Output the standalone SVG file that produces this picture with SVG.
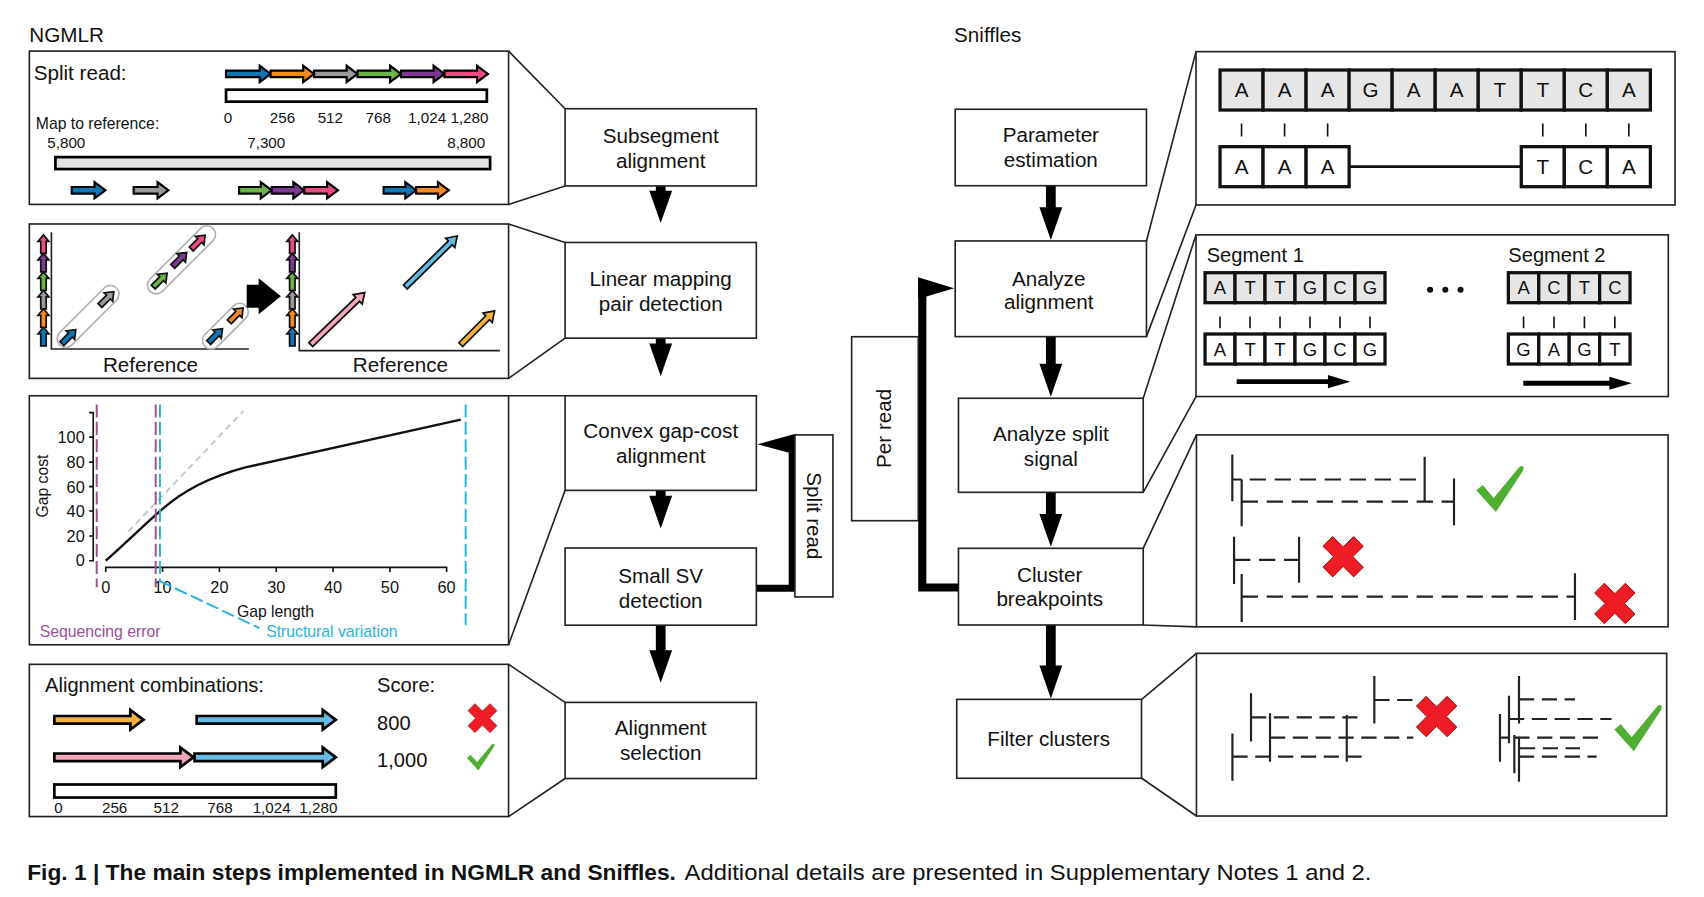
<svg xmlns="http://www.w3.org/2000/svg" xmlns:xlink="http://www.w3.org/1999/xlink" width="1704" height="897" viewBox="0 0 1704 897">
<style>
text{font-family:"Liberation Sans",Arial,Helvetica,sans-serif;fill:#111}
.t19{font-size:19px}
.t18{font-size:18.5px}
.t17{font-size:17px}
.t15{font-size:15px}
.t14{font-size:14px}
.mid{text-anchor:middle}
.end{text-anchor:end}
.box{fill:#fff;stroke:#222;stroke-width:1.5}
.pan{fill:#fff;stroke:#222;stroke-width:1.5}
.con{fill:none;stroke:#222;stroke-width:1.5}
.arw{stroke:#000;stroke-width:2;stroke-linejoin:miter}
.sarw{stroke:#111;stroke-width:1.6}
.cell{fill:#e6e6e6;stroke:#111;stroke-width:3}
.wcell{fill:#fff;stroke:#111;stroke-width:3}
.bar{stroke:#111;stroke-width:1.5}
.bl{fill:none;stroke:#222;stroke-width:2}
.dl{fill:none;stroke:#222;stroke-width:2;stroke-dasharray:15 8}
.flow{fill:#000}
.xm{fill:#ee1c25;stroke:#a00;stroke-width:0.8;stroke-linejoin:round}
.ck{fill:#4fae33}
</style>
<defs>
<path id="xmark" d="M-6,-19H6V-6H19V6H6V19H-6V6H-19V-6H-6Z" transform="rotate(45)"/>
<path id="check" d="M-22,1L-16,-4L-6,8L18,-21Q23,-23 21,-17L-4,21Z"/>
<path id="sa" d="M0,-2.5H11V-5.5L18,0L11,5.5V2.5H0Z"/>
<g id="stack" class="sarw">
<path fill="#1077b5" d="M37.5,318V307H35L40,301L45,307H42.5V318Z"/>
<path fill="#f58a24" d="M37.5,301V290H35L40,284L45,290H42.5V301Z"/>
<path fill="#9a9a9a" d="M37.5,284V273H35L40,267L45,273H42.5V284Z"/>
<path fill="#6db446" d="M37.5,267V256H35L40,250L45,256H42.5V267Z"/>
<path fill="#7e3a93" d="M37.5,250V239H35L40,233L45,239H42.5V250Z"/>
<path fill="#ec4c7e" d="M37.5,233V222H35L40,216L45,222H42.5V233Z"/>
</g>
</defs>
<rect width="1704" height="897" fill="#fff"/>
<g transform="scale(1.0867 1.0873)">

<g id="connectors">
<path class="con" d="M468,47L520,100M468,188L520,171M468,206L520,223M468,348L520,311M468,364L520,364M468,593L520,451M468,611L520,646M468,751L520,716"/>
<path class="con" d="M1055,221.6L1100.6,47.5M1055,309.6L1100.6,188.5M1052,366.3L1100.6,216M1052,452.8L1100.6,364.7M1052,504.3L1101,400M1052,574.8L1101,576.5M1050.6,643.2L1101,600.9M1050.6,715.8L1101,750.5"/>
<g class="flow">
<path d="M603.5,171V175.5H597.5L608,205L618.5,175.5H612.5V171Z"/>
<path d="M603.5,311V316H597.5L608,346L618.5,316H612.5V311Z"/>
<path d="M603.5,451V456H597.5L608,486L618.5,456H612.5V451Z"/>
<path d="M603.5,575V598H597.5L608,628L618.5,598H612.5V575Z"/>
<path d="M962.5,170.8V190.5H956.5L967,220.7L977.5,190.5H971.5V170.8Z"/>
<path d="M962.5,309.7V334.5H956.5L967,364.8L977.5,334.5H971.5V309.7Z"/>
<path d="M962.5,452.8V472.8H956.5L967,502.8L977.5,472.8H971.5V452.8Z"/>
<path d="M962.5,574.8V612H956.5L967,642.5L977.5,612H971.5V574.8Z"/>
</g>
<polyline points="696,541 729,541 729,405" fill="none" stroke="#000" stroke-width="6.5"/>
<path class="flow" d="M732,399L732,418L697,408.5Z"/>
<polyline points="848.7,262 848.7,540.3 881.9,540.3" fill="none" stroke="#000" stroke-width="7.5"/>
<path class="flow" d="M844.8,255L878,265L844.8,275Z"/>
</g>

<g id="title-ngmlr"><text class="t19" x="27" y="38.8">NGMLR</text></g>
<g id="title-sniffles"><text class="t19" x="878" y="38.8">Sniffles</text></g>

<g id="panel-split-read">
<rect class="pan" x="27" y="47" width="441" height="141"/>
<text class="t19" x="31" y="74">Split read:</text>
<g class="arw">
<path fill="#1077b5" d="M208,65H239V60.5L249,68L239,75.5V71H208Z"/>
<path fill="#f58a24" d="M249,65H279V60.5L289,68L279,75.5V71H249Z"/>
<path fill="#9a9a9a" d="M289,65H319V60.5L329,68L319,75.5V71H289Z"/>
<path fill="#6db446" d="M329,65H359V60.5L369,68L359,75.5V71H329Z"/>
<path fill="#7e3a93" d="M369,65H399V60.5L409,68L399,75.5V71H369Z"/>
<path fill="#ec4c7e" d="M409,65H439V60.5L449,68L439,75.5V71H409Z"/>
</g>
<rect x="208" y="82.5" width="240" height="11" fill="#fff" stroke="#000" stroke-width="2.5"/>
<text class="t14" x="206" y="113">0</text>
<text class="t14 mid" x="260" y="113">256</text>
<text class="t14 mid" x="304" y="113">512</text>
<text class="t14 mid" x="348" y="113">768</text>
<text class="t14 mid" x="393" y="113">1,024</text>
<text class="t14 mid" x="432" y="113">1,280</text>
<text x="33" y="119" style="font-size:14.5px">Map to reference:</text>
<text class="t14 mid" x="61" y="136">5,800</text>
<text class="t14 mid" x="245" y="136">7,300</text>
<text class="t14 mid" x="429" y="136">8,800</text>
<rect x="51" y="144.5" width="400" height="11" fill="#e3e3e3" stroke="#000" stroke-width="2.5"/>
<g class="arw">
<path fill="#1077b5" d="M66,172H87V167.5L97,175L87,182.5V178H66Z"/>
<path fill="#9a9a9a" d="M123,172H145V167.5L155,175L145,182.5V178H123Z"/>
<path fill="#6db446" d="M220,172H240V167.5L250,175L240,182.5V178H220Z"/>
<path fill="#7e3a93" d="M250,172H270V167.5L280,175L270,182.5V178H250Z"/>
<path fill="#ec4c7e" d="M280,172H301V167.5L311,175L301,182.5V178H280Z"/>
<path fill="#1077b5" d="M353,172H373V167.5L383,175L373,182.5V178H353Z"/>
<path fill="#f58a24" d="M383,172H403V167.5L413,175L403,182.5V178H383Z"/>
</g>
</g>

<g id="panel-linear-mapping">
<rect class="pan" x="27" y="206" width="441" height="142"/>
<use xlink:href="#stack"/>
<use xlink:href="#stack" transform="translate(229,0)"/>
<path d="M47.3,213.5V321H229" fill="none" stroke="#222" stroke-width="1.5"/>
<path d="M275.4,213.5V322.5H460" fill="none" stroke="#222" stroke-width="1.5"/>
<g fill="none" stroke="#b0b0b0" stroke-width="1.5">
<rect x="-37" y="-8" width="74" height="16" rx="8" transform="translate(81,291) rotate(-45)"/>
<rect x="-41" y="-8" width="82" height="16" rx="8" transform="translate(167,239) rotate(-45)"/>
<rect x="-26.5" y="-8" width="53" height="16" rx="8" transform="translate(207.5,300) rotate(-45)"/>
</g>
<g class="sarw">
<use xlink:href="#sa" fill="#1077b5" transform="translate(57,316) rotate(-45)"/>
<use xlink:href="#sa" fill="#9a9a9a" transform="translate(92,281) rotate(-45)"/>
<use xlink:href="#sa" fill="#6db446" transform="translate(141,264) rotate(-45)"/>
<use xlink:href="#sa" fill="#7e3a93" transform="translate(159,245) rotate(-45)"/>
<use xlink:href="#sa" fill="#ec4c7e" transform="translate(176,229) rotate(-45)"/>
<use xlink:href="#sa" fill="#1077b5" transform="translate(192,315) rotate(-45)"/>
<use xlink:href="#sa" fill="#f58a24" transform="translate(211,296) rotate(-45)"/>
<path fill="#f4a7b9" d="M0,-2.5H60V-6L69,0L60,6V2.5H0Z" transform="translate(286,317) rotate(-44)"/>
<path fill="#65bbe6" d="M0,-2.5H58V-6L67,0L58,6V2.5H0Z" transform="translate(373,264) rotate(-44.5)"/>
<path fill="#f6b23c" d="M0,-2.5H35V-6L44,0L35,6V2.5H0Z" transform="translate(424,317) rotate(-45)"/>
</g>
<path fill="#000" d="M227,262H238V256L258.5,272.5L238,289V283H227Z"/>
<text class="t19 mid" x="138.5" y="342">Reference</text>
<text class="t19 mid" x="368.5" y="342">Reference</text>
</g>

<g id="panel-gap-cost">
<rect class="pan" x="27" y="364" width="441" height="229"/>
<path d="M82,379.5H85.8V515.7H82M82,402H85.8M82,425H85.8M82,447.6H85.8M82,470H85.8M82,493H85.8" fill="none" stroke="#111" stroke-width="1.5"/>
<path d="M97.3,526V521.8H411V526M149.6,521.8V526M201.9,521.8V526M254.2,521.8V526M306.5,521.8V526M358.8,521.8V526" fill="none" stroke="#111" stroke-width="1.5"/>
<g class="t15">
<text class="end" x="78" y="407.4">100</text>
<text class="end" x="78" y="430.4">80</text>
<text class="end" x="78" y="453">60</text>
<text class="end" x="78" y="475.4">40</text>
<text class="end" x="78" y="498.4">20</text>
<text class="end" x="78" y="521">0</text>
<text class="mid" x="97.3" y="545.5">0</text>
<text class="mid" x="149.6" y="545.5">10</text>
<text class="mid" x="201.9" y="545.5">20</text>
<text class="mid" x="254.2" y="545.5">30</text>
<text class="mid" x="306.5" y="545.5">40</text>
<text class="mid" x="358.8" y="545.5">50</text>
<text class="mid" x="411" y="545.5">60</text>
</g>
<text class="mid" transform="translate(44,447) rotate(-90)" style="font-size:14.5px">Gap cost</text>
<path d="M118,489L224,378" fill="none" stroke="#c8c8c8" stroke-width="1.8" stroke-dasharray="6 4"/>
<path d="M97.3,515.7C118,497 138,478 149.6,468C170,450 195,438 225,430L424,386" fill="none" stroke="#111" stroke-width="2.2"/>
<g fill="none" stroke-width="1.8" stroke-dasharray="12 4">
<path stroke="#9c4f98" d="M89,372V540M143.3,372V540"/>
<path stroke="#25b4e0" d="M147.2,372V535M428.5,372V575M146.6,534.2L238.6,577.6"/>
</g>
<text class="mid" x="253.5" y="567.4" style="font-size:14.5px">Gap length</text>
<text x="36.5" y="586" style="font-size:14.5px;fill:#9c4f98">Sequencing error</text>
<text x="245" y="586" style="font-size:14.5px;fill:#25b4e0">Structural variation</text>
</g>

<g id="panel-alignment-combinations">
<rect class="pan" x="27" y="611" width="441" height="140"/>
<text class="t18" x="41.5" y="636.3">Alignment combinations:</text>
<text class="t18" x="347" y="636.3">Score:</text>
<g class="arw" style="stroke-width:2.5">
<path fill="#f6b23c" d="M50,658.5H120V653L132,662L120,671V665.5H50Z"/>
<path fill="#65bbe6" d="M181,658.5H297V653L309,662L297,671V665.5H181Z"/>
<path fill="#f4a7b9" d="M50,693H166V687.5L178,696.5L166,705.5V700H50Z"/>
<path fill="#65bbe6" d="M179,693H297V687.5L309,696.5L297,705.5V700H179Z"/>
</g>
<text class="t18" x="347" y="671.6">800</text>
<text class="t18" x="347" y="705.6">1,000</text>
<use xlink:href="#xmark" class="xm" transform="translate(444,660.5) scale(0.75)"/>
<use xlink:href="#check" class="ck" transform="translate(442.5,696.5) scale(0.58)"/>
<rect x="50" y="721.5" width="259" height="12" fill="#fff" stroke="#000" stroke-width="2.5"/>
<text class="t14" x="50" y="748">0</text>
<text class="t14 mid" x="105.5" y="748">256</text>
<text class="t14 mid" x="153" y="748">512</text>
<text class="t14 mid" x="202.5" y="748">768</text>
<text class="t14 mid" x="250" y="748">1,024</text>
<text class="t14 mid" x="293" y="748">1,280</text>
</g>

<g id="node-subsegment-alignment">
<rect class="box" x="520" y="100" width="176" height="71"/>
<text class="t19 mid" x="608" y="131.8">Subsegment</text>
<text class="t19 mid" x="608" y="154.8">alignment</text>
</g>
<g id="node-linear-mapping">
<rect class="box" x="520" y="223" width="176" height="88"/>
<text class="t19 mid" x="608" y="262.8">Linear mapping</text>
<text class="t19 mid" x="608" y="285.8">pair detection</text>
</g>
<g id="node-convex-gap">
<rect class="box" x="520" y="364" width="176" height="87"/>
<text class="t19 mid" x="608" y="402.8">Convex gap-cost</text>
<text class="t19 mid" x="608" y="425.8">alignment</text>
</g>
<g id="node-small-sv">
<rect class="box" x="520" y="504" width="176" height="71"/>
<text class="t19 mid" x="608" y="535.8">Small SV</text>
<text class="t19 mid" x="608" y="558.8">detection</text>
</g>
<g id="node-alignment-selection">
<rect class="box" x="520" y="646" width="176" height="70"/>
<text class="t19 mid" x="608" y="675.8">Alignment</text>
<text class="t19 mid" x="608" y="698.8">selection</text>
</g>
<g id="node-split-read">
<rect class="box" x="731.5" y="400" width="35" height="149"/>
<text class="t19 mid" transform="translate(742.2,474.5) rotate(90)">Split read</text>
</g>

<g id="node-parameter-estimation">
<rect class="box" x="879" y="100.5" width="176" height="70.3"/>
<text class="t19 mid" x="967" y="131">Parameter</text>
<text class="t19 mid" x="967" y="154">estimation</text>
</g>
<g id="node-analyze-alignment">
<rect class="box" x="879" y="221.6" width="176" height="88"/>
<text class="t19 mid" x="965" y="262.8">Analyze</text>
<text class="t19 mid" x="965" y="284.3">alignment</text>
</g>
<g id="node-per-read">
<rect class="box" x="783.7" y="309.7" width="61.3" height="169.2"/>
<text class="t19 mid" transform="translate(819.7,394) rotate(-90)">Per read</text>
</g>
<g id="node-analyze-split">
<rect class="box" x="882" y="366.3" width="170" height="86.5"/>
<text class="t19 mid" x="967" y="405.3">Analyze split</text>
<text class="t19 mid" x="967" y="428.3">signal</text>
</g>
<g id="node-cluster-breakpoints">
<rect class="box" x="882" y="504.3" width="170" height="70.5"/>
<text class="t19 mid" x="966" y="535.6">Cluster</text>
<text class="t19 mid" x="966" y="557">breakpoints</text>
</g>
<g id="node-filter-clusters">
<rect class="box" x="880.4" y="643.2" width="170" height="72.6"/>
<text class="t19 mid" x="965" y="685.8">Filter clusters</text>
</g>

<g id="panel-sequence-alignment">
<rect class="pan" x="1100.6" y="47.5" width="440.8" height="141"/>
<g>
<rect class="cell" x="1122.7" y="64.4" width="39.6" height="36.8"/>
<rect class="cell" x="1162.3" y="64.4" width="39.6" height="36.8"/>
<rect class="cell" x="1201.9" y="64.4" width="39.6" height="36.8"/>
<rect class="cell" x="1241.5" y="64.4" width="39.6" height="36.8"/>
<rect class="cell" x="1281.1" y="64.4" width="39.6" height="36.8"/>
<rect class="cell" x="1320.7" y="64.4" width="39.6" height="36.8"/>
<rect class="cell" x="1360.3" y="64.4" width="39.6" height="36.8"/>
<rect class="cell" x="1399.9" y="64.4" width="39.6" height="36.8"/>
<rect class="cell" x="1439.5" y="64.4" width="39.6" height="36.8"/>
<rect class="cell" x="1479.1" y="64.4" width="39.6" height="36.8"/>
</g>
<g class="t19 mid">
<text x="1142.5" y="89.6">A</text><text x="1182.1" y="89.6">A</text><text x="1221.7" y="89.6">A</text><text x="1261.3" y="89.6">G</text><text x="1300.9" y="89.6">A</text><text x="1340.5" y="89.6">A</text><text x="1380.1" y="89.6">T</text><text x="1419.7" y="89.6">T</text><text x="1459.3" y="89.6">C</text><text x="1498.9" y="89.6">A</text>
</g>
<path class="bar" d="M1142.5,113.5V125.5M1182.1,113.5V125.5M1221.7,113.5V125.5M1419.7,113.5V125.5M1459.3,113.5V125.5M1498.9,113.5V125.5"/>
<path d="M1241.5,153.3H1399.9" stroke="#111" stroke-width="2.5"/>
<rect class="wcell" x="1122.7" y="134.9" width="39.6" height="36.8"/>
<rect class="wcell" x="1162.3" y="134.9" width="39.6" height="36.8"/>
<rect class="wcell" x="1201.9" y="134.9" width="39.6" height="36.8"/>
<rect class="wcell" x="1399.9" y="134.9" width="39.6" height="36.8"/>
<rect class="wcell" x="1439.5" y="134.9" width="39.6" height="36.8"/>
<rect class="wcell" x="1479.1" y="134.9" width="39.6" height="36.8"/>
<g class="t19 mid">
<text x="1142.5" y="160">A</text><text x="1182.1" y="160">A</text><text x="1221.7" y="160">A</text><text x="1419.7" y="160">T</text><text x="1459.3" y="160">C</text><text x="1498.9" y="160">A</text>
</g>
</g>

<g id="panel-segments">
<rect class="pan" x="1100.6" y="216" width="434.6" height="148.7"/>
<text class="t18" x="1110.4" y="241">Segment 1</text>
<text class="t18" x="1388" y="241">Segment 2</text>
<g>
<rect class="cell" x="1108.9" y="250.8" width="27.6" height="27.6"/>
<rect class="cell" x="1136.5" y="250.8" width="27.6" height="27.6"/>
<rect class="cell" x="1164.1" y="250.8" width="27.6" height="27.6"/>
<rect class="cell" x="1191.7" y="250.8" width="27.6" height="27.6"/>
<rect class="cell" x="1219.3" y="250.8" width="27.6" height="27.6"/>
<rect class="cell" x="1246.9" y="250.8" width="27.6" height="27.6"/>
<rect class="wcell" x="1108.9" y="307.2" width="27.6" height="27.6"/>
<rect class="wcell" x="1136.5" y="307.2" width="27.6" height="27.6"/>
<rect class="wcell" x="1164.1" y="307.2" width="27.6" height="27.6"/>
<rect class="wcell" x="1191.7" y="307.2" width="27.6" height="27.6"/>
<rect class="wcell" x="1219.3" y="307.2" width="27.6" height="27.6"/>
<rect class="wcell" x="1246.9" y="307.2" width="27.6" height="27.6"/>
<rect class="cell" x="1388" y="250.8" width="28" height="27.6"/>
<rect class="cell" x="1416" y="250.8" width="28" height="27.6"/>
<rect class="cell" x="1444" y="250.8" width="28" height="27.6"/>
<rect class="cell" x="1472" y="250.8" width="28" height="27.6"/>
<rect class="wcell" x="1388" y="307.2" width="28" height="27.6"/>
<rect class="wcell" x="1416" y="307.2" width="28" height="27.6"/>
<rect class="wcell" x="1444" y="307.2" width="28" height="27.6"/>
<rect class="wcell" x="1472" y="307.2" width="28" height="27.6"/>
</g>
<g class="t17 mid">
<text x="1122.7" y="270.8">A</text><text x="1150.3" y="270.8">T</text><text x="1177.9" y="270.8">T</text><text x="1205.5" y="270.8">G</text><text x="1233.1" y="270.8">C</text><text x="1260.7" y="270.8">G</text>
<text x="1122.7" y="327.2">A</text><text x="1150.3" y="327.2">T</text><text x="1177.9" y="327.2">T</text><text x="1205.5" y="327.2">G</text><text x="1233.1" y="327.2">C</text><text x="1260.7" y="327.2">G</text>
<text x="1402" y="270.8">A</text><text x="1430" y="270.8">C</text><text x="1458" y="270.8">T</text><text x="1486" y="270.8">C</text>
<text x="1402" y="327.2">G</text><text x="1430" y="327.2">A</text><text x="1458" y="327.2">G</text><text x="1486" y="327.2">T</text>
</g>
<path class="bar" d="M1122.7,291V302M1150.3,291V302M1177.9,291V302M1205.5,291V302M1233.1,291V302M1260.7,291V302M1402,291V302M1430,291V302M1458,291V302M1486,291V302"/>
<circle cx="1316" cy="266.5" r="2.8" fill="#111"/>
<circle cx="1330" cy="266.5" r="2.8" fill="#111"/>
<circle cx="1344" cy="266.5" r="2.8" fill="#111"/>
<path d="M1138,351H1224M1401.8,352.5H1483" stroke="#000" stroke-width="4.5"/>
<path d="M1222,345L1242.5,351L1222,357ZM1481,346.5L1501.5,352.5L1481,358.5Z" fill="#000"/>
</g>

<g id="panel-breakpoint-clusters">
<rect class="pan" x="1101" y="400" width="434" height="176.5"/>
<path class="bl" d="M1134,418V461M1134,441H1142.6M1142.6,441V484M1311,420V461M1338,440V483M1135.6,493.6V537M1195.4,493.6V536M1142.6,528V572M1449.3,527.3V570.3"/>
<path class="dl" d="M1150,441H1311M1142.6,461.4H1338M1135.6,515H1195.4M1142.6,548.8H1449.3"/>
<use xlink:href="#check" class="ck" transform="translate(1380.5,450)"/>
<use xlink:href="#xmark" class="xm" transform="translate(1236,512) scale(1.05)"/>
<use xlink:href="#xmark" class="xm" transform="translate(1486,555) scale(1.05)"/>
</g>

<g id="panel-filtered-clusters">
<rect class="pan" x="1101" y="600.9" width="432.7" height="149.6"/>
<path class="bl" d="M1134.1,674.5V718M1151.2,637.7V682M1168.7,656V700.5M1239.3,657.6V700.5M1264.7,621.7V665.3M1380.3,656.7V700.5M1380.3,678.4H1388M1388.6,640V683.6M1397.8,621.7V665.3M1393.5,676V711.2M1397.8,677.5V719"/>
<path class="dl" style="stroke-dasharray:14 7" d="M1134.1,695.9H1253M1151.2,659.7H1256M1168.7,678.4H1300.6M1264.7,643.8H1306.7M1388.6,661.3H1483M1397.8,643.2H1449.3M1393.5,678.4H1477M1398.7,688.2H1454M1397.8,695.9H1469.3"/>
<use xlink:href="#xmark" class="xm" transform="translate(1322,659) scale(1.05)"/>
<use xlink:href="#check" class="ck" transform="translate(1507.5,670)"/>
</g>

<g id="caption">
<text x="25" y="809" textLength="597" lengthAdjust="spacingAndGlyphs" style="font-size:20px;font-weight:bold">Fig. 1 | The main steps implemented in NGMLR and Sniffles.</text>
<text x="630" y="809" textLength="632" lengthAdjust="spacingAndGlyphs" style="font-size:20px">Additional details are presented in Supplementary Notes 1 and 2.</text>
</g>
</g>
</svg>
